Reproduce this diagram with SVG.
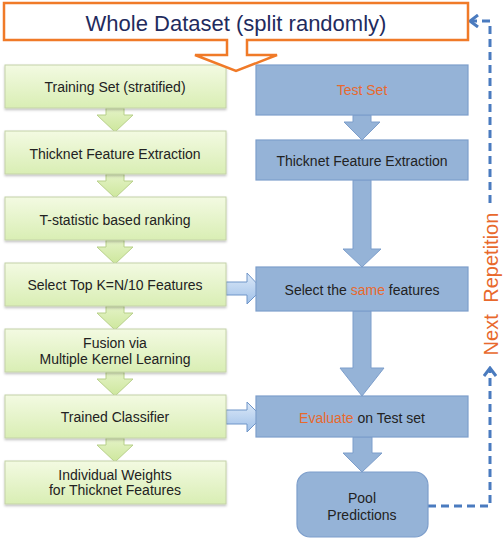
<svg xmlns="http://www.w3.org/2000/svg" width="503" height="544" viewBox="0 0 503 544">
<defs>
<linearGradient id="gGreen" x1="0" y1="0" x2="0" y2="1">
<stop offset="0" stop-color="#f3fae2"/>
<stop offset="1" stop-color="#d9eeb4"/>
</linearGradient>
<linearGradient id="gGreenArrow" x1="0" y1="0" x2="0" y2="1">
<stop offset="0" stop-color="#e4f3c6"/>
<stop offset="1" stop-color="#cde79c"/>
</linearGradient>
<linearGradient id="gLightBlue" x1="0" y1="0" x2="0" y2="1">
<stop offset="0" stop-color="#dce9f8"/>
<stop offset="1" stop-color="#9fc0e8"/>
</linearGradient>
<marker id="chev" viewBox="0 0 14 14" refX="12" refY="7" markerWidth="14" markerHeight="14" markerUnits="userSpaceOnUse" orient="auto">
<polyline points="4,1 12,7 4,13" fill="none" stroke="#4a7bbf" stroke-width="3"/>
</marker>
<filter id="sh" x="-5%" y="-10%" width="110%" height="130%">
<feDropShadow dx="0" dy="1.5" stdDeviation="1" flood-color="#000" flood-opacity="0.25"/>
</filter>
</defs>
<style>
.gbox{fill:url(#gGreen);stroke:#c4d2a8;stroke-width:1;filter:url(#sh)}
.garr{fill:url(#gGreenArrow);stroke:#b8d08a;stroke-width:1}
.bbox{fill:#95b3d7;stroke:#7d9ecb;stroke-width:1.2}
.barr{fill:#95b3d7;stroke:#7d9ecb;stroke-width:1}
.harr{fill:url(#gLightBlue);stroke:#6f95c8;stroke-width:1}
.lbl{font-family:"Liberation Sans",Arial,sans-serif;font-size:14px;fill:#222;text-anchor:middle}
.hl{fill:#e8692d}
.dash{fill:none;stroke:#4a7bbf;stroke-width:3;stroke-dasharray:8 5}
</style>

<g id="connectors">
<polygon class="garr" points="106,108 124,108 124,115 133,115 115,132 97,115 106,115"/>
<polygon class="garr" points="106,174 124,174 124,181 133,181 115,198 97,181 106,181"/>
<polygon class="garr" points="106,240 124,240 124,247 133,247 115,264 97,247 106,247"/>
<polygon class="garr" points="106,306 124,306 124,313 133,313 115,330 97,313 106,313"/>
<polygon class="garr" points="106,372 124,372 124,379 133,379 115,396 97,379 106,379"/>
<polygon class="garr" points="106,438 124,438 124,445 133,445 115,462 97,445 106,445"/>
<polygon class="barr" points="353,115 371,115 371,122 380,122 362,140 344,122 353,122"/>
<polygon class="barr" points="353,180 371,180 371,249 381,249 362,267 343,249 353,249"/>
<polygon class="barr" points="353,311 371,311 371,368 384,368 362,396 340,368 353,368"/>
<polygon class="barr" points="353,437 372,437 372,453 382,453 362,472 343,453 353,453"/>
<polygon class="harr" points="226,282 247,282 247,273 262,289 247,304 247,295 226,295"/>
<polygon class="harr" points="226,410 247,410 247,402 262,417 247,432 247,424 226,424"/>
<path class="dash" d="M428,506 H490 V368" marker-end="url(#chev)"/>
<path class="dash" d="M490,203 V21 H470" marker-end="url(#chev)"/>
</g>

<g id="train">
<rect class="gbox" x="5" y="65" width="221" height="43"/>
<text class="lbl" x="115" y="92">Training Set (stratified)</text>
</g>
<g id="train-extract">
<rect class="gbox" x="5" y="131" width="221" height="43"/>
<text class="lbl" x="115" y="159">Thicknet Feature Extraction</text>
</g>
<g id="ranking">
<rect class="gbox" x="5" y="197" width="221" height="43"/>
<text class="lbl" x="115" y="225">T-statistic based ranking</text>
</g>
<g id="select-top">
<rect class="gbox" x="5" y="263" width="221" height="43"/>
<text class="lbl" x="115" y="290">Select Top K=N/10 Features</text>
</g>
<g id="fusion">
<rect class="gbox" x="5" y="329" width="221" height="43"/>
<text class="lbl" x="115" y="348">Fusion via</text>
<text class="lbl" x="115" y="364">Multiple Kernel Learning</text>
</g>
<g id="classifier">
<rect class="gbox" x="5" y="395" width="221" height="43"/>
<text class="lbl" x="115" y="422">Trained Classifier</text>
</g>
<g id="weights">
<rect class="gbox" x="5" y="461" width="221" height="43"/>
<text class="lbl" x="115" y="480">Individual Weights</text>
<text class="lbl" x="115" y="495">for Thicknet Features</text>
</g>

<g id="test">
<rect class="bbox" x="256" y="65" width="212" height="50"/>
<text class="lbl hl" x="362" y="95">Test Set</text>
</g>
<g id="test-extract">
<rect class="bbox" x="256" y="140" width="212" height="40"/>
<text class="lbl" x="362" y="166">Thicknet Feature Extraction</text>
</g>
<g id="select-same">
<rect class="bbox" x="256" y="267" width="212" height="44"/>
<text class="lbl" x="362" y="295">Select the <tspan class="hl">same</tspan> features</text>
</g>
<g id="evaluate">
<rect class="bbox" x="256" y="396" width="212" height="41"/>
<text class="lbl" x="362" y="423"><tspan class="hl">Evaluate</tspan> on Test set</text>
</g>
<g id="pool">
<rect class="bbox" x="297" y="472" width="131" height="65" rx="13"/>
<text class="lbl" x="362" y="503">Pool</text>
<text class="lbl" x="362" y="520">Predictions</text>
</g>

<g id="whole">
<path d="M227,40 H4 V3 H468 V40 H247 V55 H277 L236,71 L195,55 H227 Z" fill="#fff" stroke="#f07a28" stroke-width="2.5" stroke-linejoin="miter"/>
<text x="236" y="31" font-family="'Liberation Sans',Arial,sans-serif" font-size="22" fill="#1f2b5e" text-anchor="middle">Whole Dataset (split randomly)</text>
</g>

<g id="next-repetition">
<text transform="translate(498,284) rotate(-90)" font-family="'Liberation Sans',Arial,sans-serif" font-size="20" fill="#e8692d" text-anchor="middle" word-spacing="6">Next Repetition</text>
</g>
</svg>
